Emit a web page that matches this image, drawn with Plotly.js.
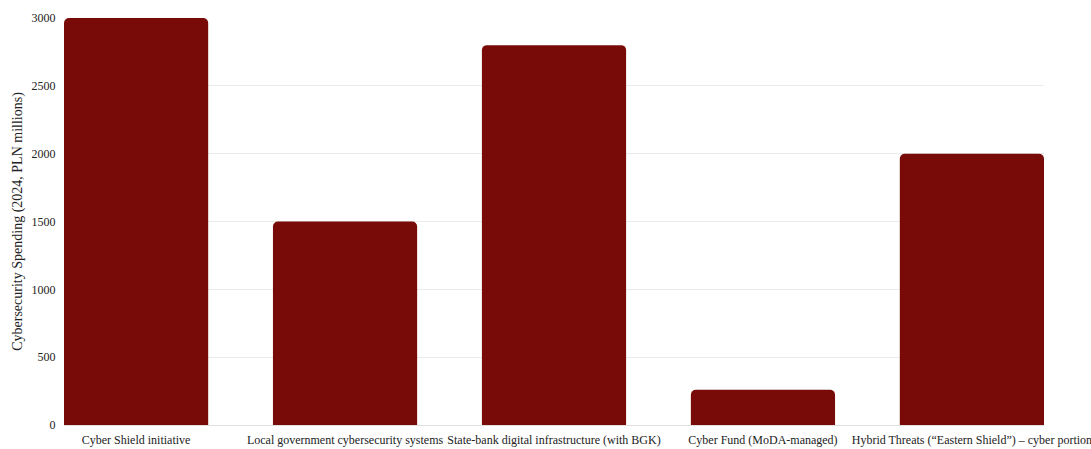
<!DOCTYPE html>
<html>
<head>
<meta charset="utf-8">
<script src="https://cdn.plot.ly/plotly-3.0.1.min.js"></script>
<style>html,body{margin:0;padding:0;background:#fff;}#chart{width:1091px;height:449px;}</style>
</head>
<body>
<div id="chart"></div>
<script>
const categories = [
  "Cyber Shield initiative",
  "Local government cybersecurity systems",
  "State-bank digital infrastructure (with BGK)",
  "Cyber Fund (MoDA-managed)",
  "Hybrid Threats (\u201cEastern Shield\u201d) \u2013 cyber portion"
];
const spending = [3000, 1500, 2800, 260, 2000];
const yTicks = [0, 500, 1000, 1500, 2000, 2500, 3000];

const font = "Liberation Serif, Times New Roman, serif";

Plotly.newPlot("chart", [{
  type: "bar",
  x: categories,
  y: spending,
  marker: {color: "#780b07", line: {width: 0}},
  hoverinfo: "x+y"
}], {
  width: 1091,
  height: 449,
  margin: {l: 64, r: 47, t: 18, b: 24},
  paper_bgcolor: "#fff",
  plot_bgcolor: "#fff",
  bargap: 0.31,
  barcornerradius: 5,
  showlegend: false,
  font: {family: font, color: "#222", size: 12},
  xaxis: {
    type: "category",
    range: [-0.345, 4.345],
    showgrid: false,
    zeroline: false,
    showline: false,
    ticks: "outside",
    ticklen: 4,
    tickcolor: "rgba(0,0,0,0)",
    tickfont: {family: font, size: 12, color: "#222"}
  },
  yaxis: {
    range: [0, 3000],
    tickvals: yTicks,
    ticktext: yTicks.map(String),
    showgrid: true,
    gridcolor: "#ebebeb",
    gridwidth: 1,
    zeroline: true,
    zerolinecolor: "#e0e0e0",
    showline: false,
    ticks: "outside",
    ticklen: 5,
    tickcolor: "rgba(0,0,0,0)",
    tickfont: {family: font, size: 12, color: "#222"},
    title: {text: "Cybersecurity Spending (2024, PLN millions)", font: {family: font, size: 14, color: "#222"}, standoff: 5}
  }
}, {displayModeBar: false, staticPlot: true});
</script>
</body>
</html>
